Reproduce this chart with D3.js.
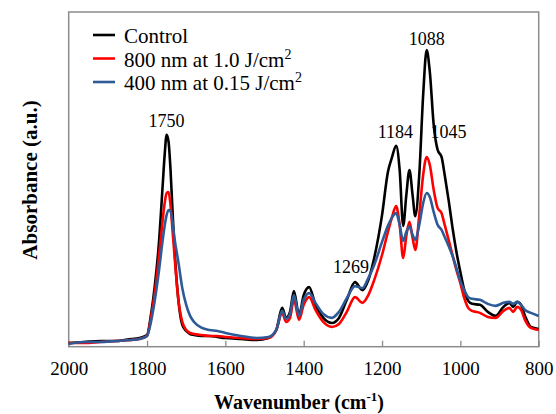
<!DOCTYPE html>
<html>
<head>
<meta charset="utf-8">
<script src="https://cdn.jsdelivr.net/npm/d3@7"></script>
<style>
  body { margin: 0; background: #fff; }
</style>
</head>
<body>
<div id="chart"></div>
<script>
// wavenumbers (cm-1) shared by all three spectra
var wavenumber = [2000, 1960, 1920, 1880, 1840, 1820, 1800, 1790, 1780, 1770, 1760, 1755, 1750, 1745, 1740, 1735, 1730, 1720, 1710, 1700,
  1690, 1680, 1660, 1640, 1620, 1600, 1560, 1520, 1490, 1470, 1455, 1445, 1435, 1425, 1412, 1400, 1386, 1370, 1350, 1328,
  1310, 1290, 1269, 1250, 1235, 1220, 1200, 1185, 1175, 1164, 1155, 1146, 1138, 1130, 1122, 1115, 1105, 1095, 1086, 1078,
  1068, 1058, 1048, 1040, 1030, 1020, 1010, 1000, 990, 980, 970, 950, 930, 910, 890, 875, 865, 855, 845, 835, 820, 800]

var control = [0.011, 0.014, 0.017, 0.017, 0.023, 0.026, 0.035, 0.095, 0.184, 0.304, 0.483, 0.573, 0.633, 0.612, 0.528, 0.408, 0.295, 0.140, 0.065, 0.047,
  0.038, 0.035, 0.032, 0.032, 0.029, 0.026, 0.023, 0.020, 0.026, 0.050, 0.116, 0.086, 0.104, 0.166, 0.095, 0.154, 0.178, 0.125, 0.086, 0.071,
  0.086, 0.140, 0.193, 0.169, 0.199, 0.265, 0.393, 0.522, 0.564, 0.600, 0.528, 0.361, 0.453, 0.528, 0.453, 0.390, 0.513, 0.752, 0.886, 0.821,
  0.662, 0.588, 0.567, 0.513, 0.438, 0.355, 0.283, 0.223, 0.169, 0.137, 0.128, 0.125, 0.104, 0.092, 0.119, 0.131, 0.119, 0.134, 0.125, 0.092, 0.059, 0.053]

var nm800 = [0.011, 0.011, 0.014, 0.017, 0.020, 0.023, 0.032, 0.086, 0.163, 0.265, 0.379, 0.429, 0.459, 0.462, 0.423, 0.349, 0.274, 0.140, 0.074, 0.050,
  0.041, 0.038, 0.035, 0.032, 0.032, 0.029, 0.026, 0.023, 0.026, 0.050, 0.101, 0.074, 0.086, 0.140, 0.080, 0.125, 0.148, 0.110, 0.074, 0.059,
  0.068, 0.104, 0.148, 0.131, 0.154, 0.199, 0.274, 0.343, 0.385, 0.420, 0.364, 0.265, 0.331, 0.373, 0.325, 0.289, 0.393, 0.513, 0.567, 0.543,
  0.468, 0.414, 0.399, 0.364, 0.319, 0.274, 0.229, 0.190, 0.145, 0.116, 0.107, 0.101, 0.089, 0.086, 0.107, 0.116, 0.104, 0.119, 0.110, 0.080, 0.056, 0.050]

var nm400 = [0.008, 0.014, 0.014, 0.017, 0.020, 0.023, 0.032, 0.074, 0.140, 0.223, 0.319, 0.361, 0.393, 0.408, 0.405, 0.373, 0.325, 0.253, 0.175, 0.125,
  0.092, 0.074, 0.056, 0.050, 0.047, 0.041, 0.032, 0.026, 0.029, 0.050, 0.107, 0.083, 0.098, 0.154, 0.092, 0.140, 0.160, 0.131, 0.098, 0.086,
  0.104, 0.145, 0.181, 0.175, 0.205, 0.244, 0.313, 0.361, 0.385, 0.399, 0.364, 0.316, 0.343, 0.358, 0.334, 0.319, 0.364, 0.429, 0.459, 0.447,
  0.402, 0.364, 0.349, 0.328, 0.301, 0.271, 0.235, 0.196, 0.169, 0.148, 0.143, 0.140, 0.128, 0.122, 0.131, 0.134, 0.128, 0.134, 0.125, 0.110, 0.101, 0.092]

var seriesNames = ["Control", "800 nm at 1.0 J/cm", "400 nm at 0.15 J/cm"]
var seriesColors = ["#000000", "#ff0000", "#2e5a97"]
var xTicks = [2000, 1800, 1600, 1400, 1200, 1000, 800]

// peak labels: [wavenumber position, absorbance position, text]
var peakLabels = [
  [1750, 0.655, "1750"],
  [1086, 0.900, "1088"],
  [1166, 0.625, "1184"],
  [1030, 0.625, "1045"],
  [1279, 0.220, "1269"]
]

var serif = "'Liberation Serif'"

var width = 556, height = 414
var svg = d3.select("#chart").append("svg")
  .attr("width", width)
  .attr("height", height)

var x = d3.scaleLinear()
  .domain([2000, 800])
  .range([68.7, 538.7])

var y = d3.scaleLinear()
  .domain([0, 1])
  .range([346.7, 12])

// frame
svg.append("rect")
  .attr("x", x(2000))
  .attr("y", y(1))
  .attr("width", x(800) - x(2000))
  .attr("height", y(0) - y(1))
  .attr("fill", "none")
  .attr("stroke", "#8c8c8c")
  .attr("stroke-width", 1.5)

// bottom axis, ticks pointing inward
var xAxis = svg.append("g")
  .attr("transform", "translate(0," + y(0) + ")")
  .call(d3.axisBottom(x).tickValues(xTicks).tickSizeInner(-6).tickSizeOuter(0).tickPadding(15).tickFormat(d3.format("d")))

xAxis.attr("font-family", null)
xAxis.select(".domain").remove()
xAxis.selectAll(".tick line").attr("stroke", "#8c8c8c").attr("stroke-width", 1.3)
xAxis.selectAll(".tick text")
  .style("font-family", serif)
  .attr("font-size", 19)
  .attr("fill", "#000")

var spectra = [control, nm800, nm400]

var line = d3.line()
  .x(d => x(d[0]))
  .y(d => y(d[1]))
  .curve(d3.curveMonotoneX)

svg.selectAll(".spectrum")
  .data(spectra)
  .enter()
  .append("path")
  .attr("class", "spectrum")
  .attr("d", s => line(wavenumber.map((w, i) => [w, s[i]])))
  .attr("fill", "none")
  .attr("stroke", (s, i) => seriesColors[i])
  .attr("stroke-width", 2.6)
  .attr("stroke-linejoin", "round")

// peak labels
svg.selectAll(".peak")
  .data(peakLabels)
  .enter()
  .append("text")
  .attr("class", "peak")
  .attr("x", d => x(d[0]))
  .attr("y", d => y(d[1]))
  .attr("text-anchor", "middle")
  .style("font-family", serif)
  .attr("font-size", 18)
  .text(d => d[2])

// legend
var legend = svg.selectAll(".legend")
  .data(seriesNames)
  .enter()
  .append("g")
  .attr("class", "legend")
  .attr("transform", (d, i) => "translate(93," + (35 + i * 23.5) + ")")

legend.append("line")
  .attr("x1", 0)
  .attr("x2", 22)
  .attr("stroke", (d, i) => seriesColors[i])
  .attr("stroke-width", 2.6)

var legendText = legend.append("text")
  .attr("x", 31)
  .attr("y", 8)
  .style("font-family", serif)
  .attr("font-size", 21)
  .text(d => d)

legendText.filter((d, i) => i > 0)
  .append("tspan")
  .attr("dy", -8)
  .attr("font-size", 14)
  .text("2")

// axis titles
svg.append("text")
  .attr("x", 299)
  .attr("y", 409)
  .attr("text-anchor", "middle")
  .style("font-family", serif)
  .attr("font-size", 20)
  .attr("font-weight", "bold")
  .text("Wavenumber (cm")
  .call(t => t.append("tspan").attr("dy", -8).attr("font-size", 13).text("-1"))
  .call(t => t.append("tspan").attr("dy", 8).text(")"))

svg.append("text")
  .attr("transform", "translate(37,180) rotate(-90)")
  .attr("text-anchor", "middle")
  .style("font-family", serif)
  .attr("font-size", 21)
  .attr("font-weight", "bold")
  .text("Absorbance (a.u.)")
</script>
</body>
</html>
